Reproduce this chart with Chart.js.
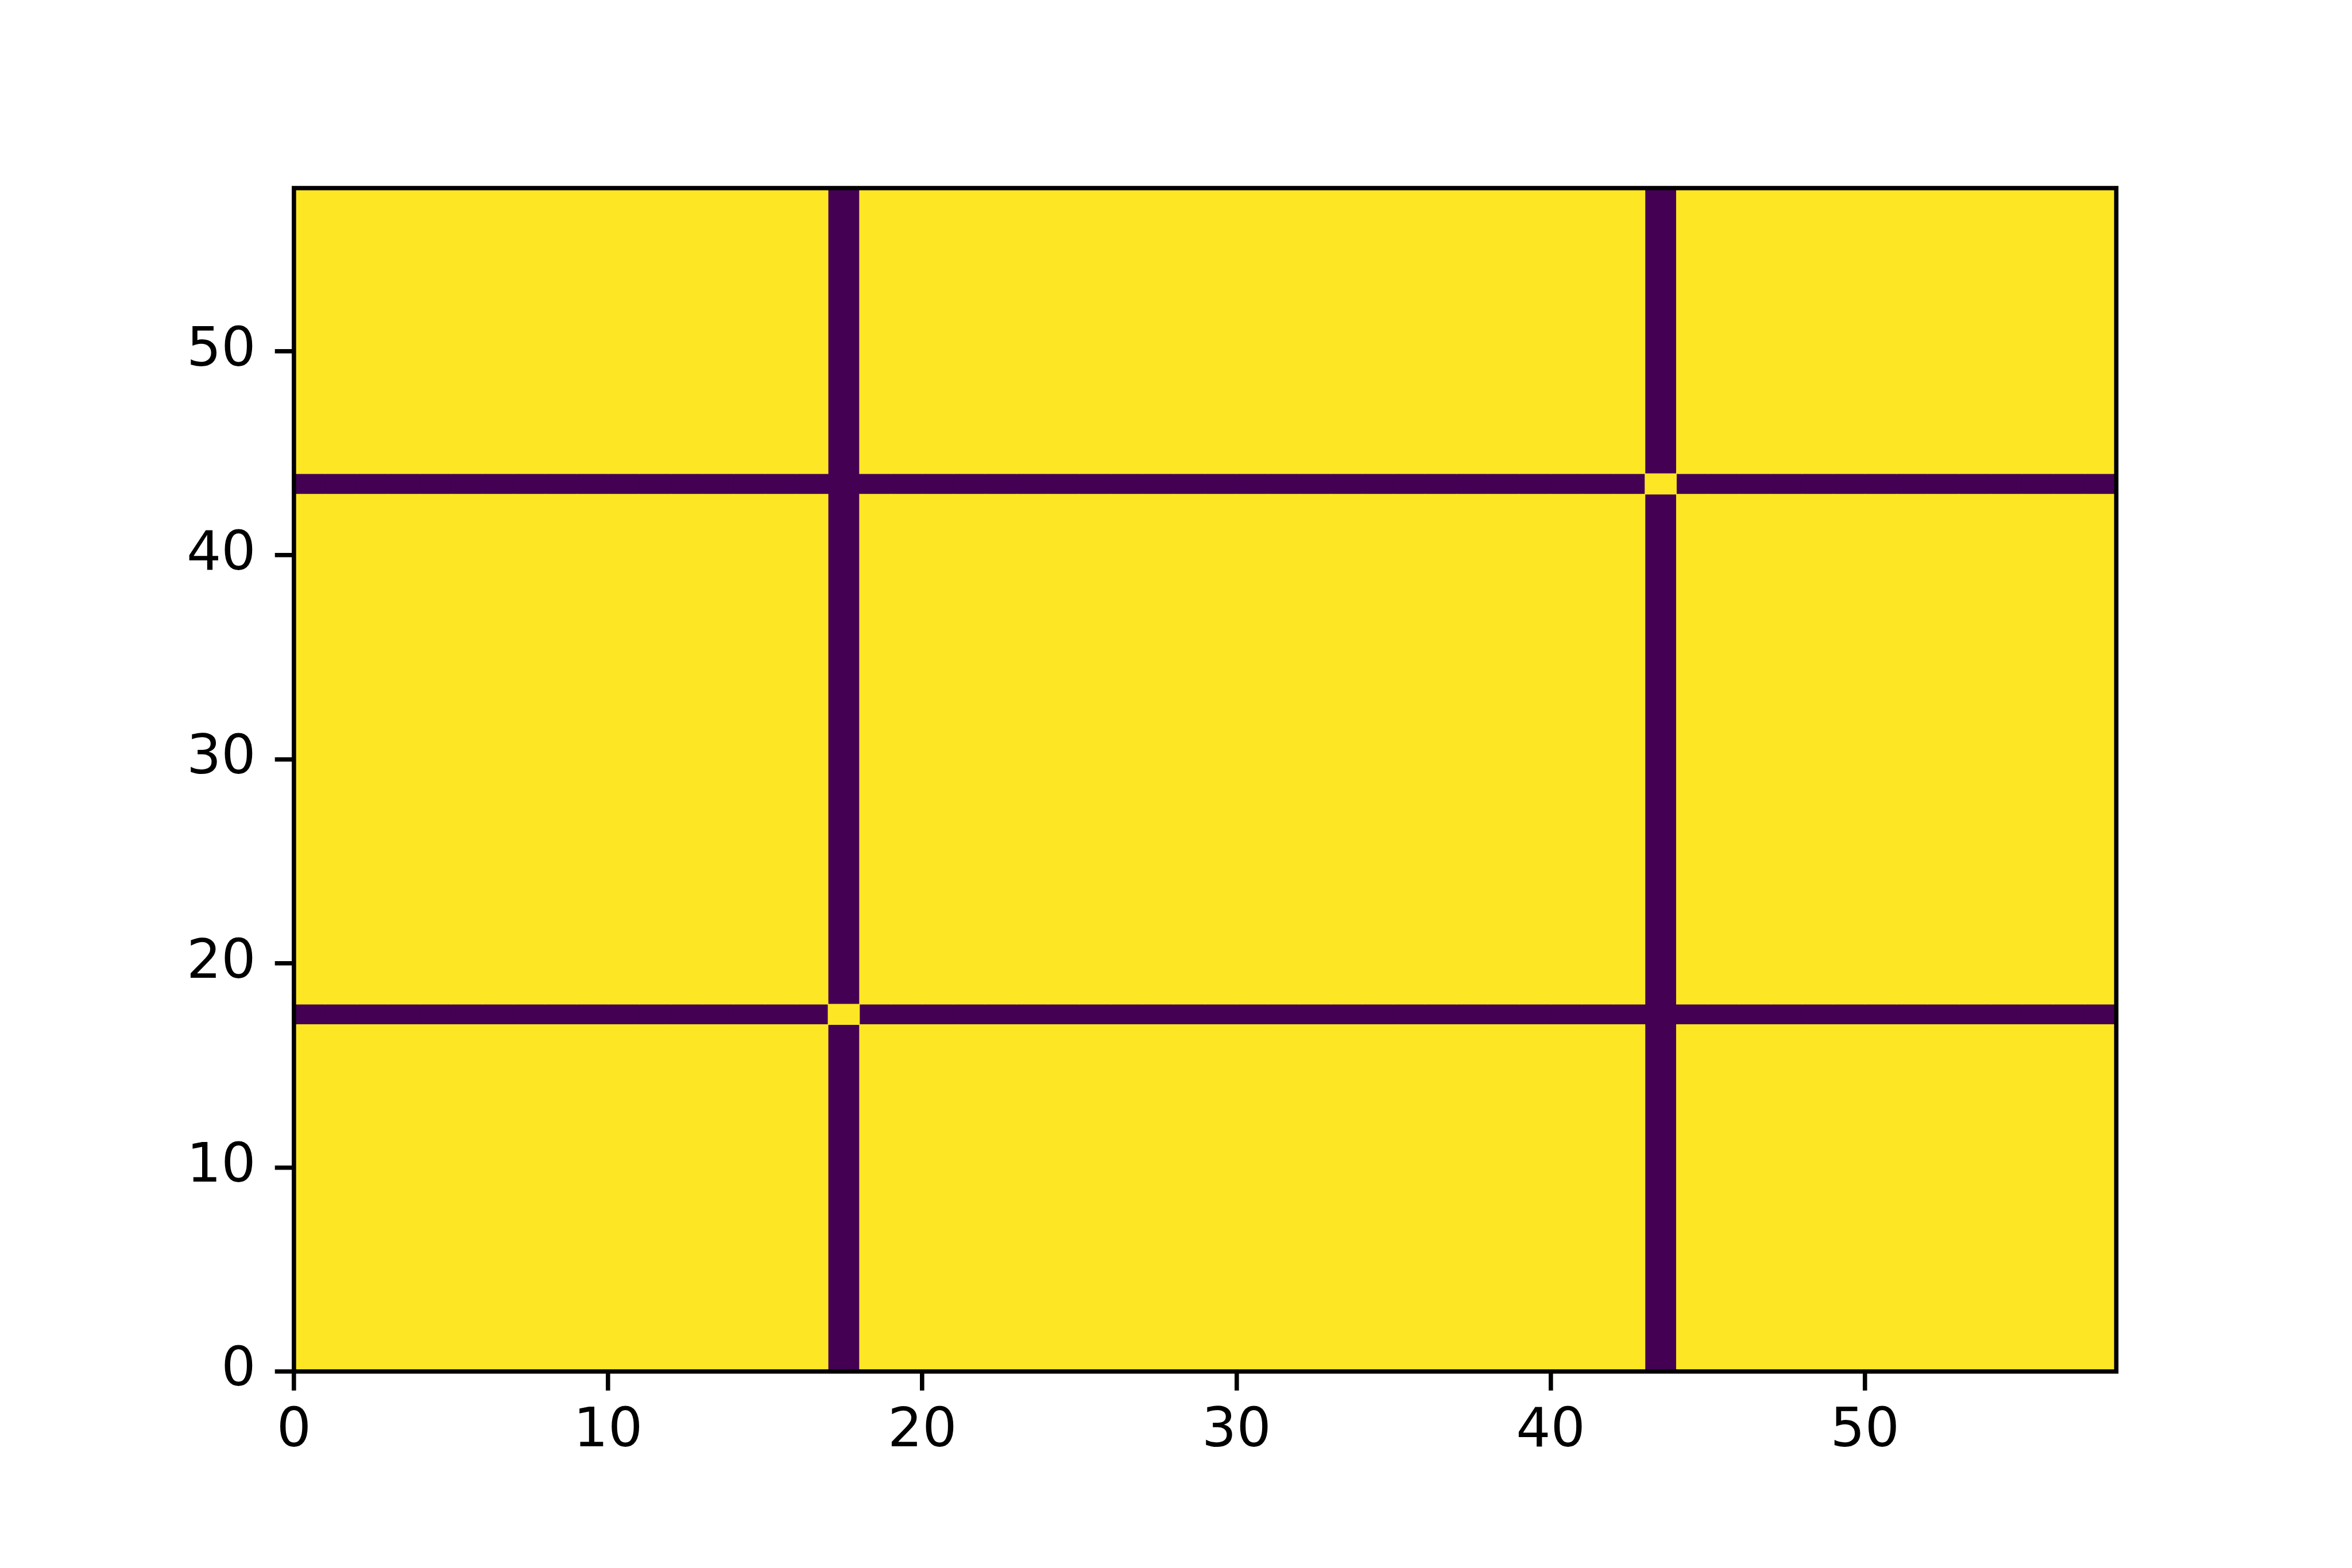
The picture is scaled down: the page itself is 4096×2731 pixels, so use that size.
<!DOCTYPE html>
<html>
<head>
<meta charset="utf-8">
<script src="https://cdn.jsdelivr.net/npm/chart.js@4/dist/chart.umd.min.js"></script>
<style>
  html, body { margin: 0; padding: 0; background: #ffffff; overflow: hidden; }
  #c { display: block; }
</style>
</head>
<body>
<canvas id="c" width="4096" height="2731"></canvas>
<script>
// ---- data ----
const nCols = 58;                         // grid columns (x from 0 to 58)
const nRows = 58;                         // grid rows (y from 0 to 58)
const stripeCols = [17, 43];              // columns filled with the low value
const stripeRows = [17, 43];              // rows filled with the low value
const brightCrossings = [[17, 17], [43, 43]]; // crossings that keep the high value
const levelValues = [0, 1];               // low / high cell values
const levelColors = ['#440154', '#fde725']; // viridis ends
const xTickValues = [0, 10, 20, 30, 40, 50];
const yTickValues = [0, 10, 20, 30, 40, 50];

// ---- build the cell values and per-column runs ----
function cellValue(c, r) {
  if (brightCrossings.some(p => p[0] === c && p[1] === r)) return levelValues[1];
  if (stripeCols.includes(c) || stripeRows.includes(r)) return levelValues[0];
  return levelValues[1];
}
const runs = levelValues.map(() => []);
for (let c = 0; c < nCols; c++) {
  let start = 0, cur = cellValue(c, 0);
  for (let r = 1; r <= nRows; r++) {
    const v = r < nRows ? cellValue(c, r) : null;
    if (v !== cur) {
      runs[levelValues.indexOf(cur)].push({ x: c + 0.5, y: [start, r] });
      start = r; cur = v;
    }
  }
}

// ---- sizes (reference * 0.975) ----
const S = 0.975;
const spineW = 7.78 * S;
const tickLen = 34.0 * S;
const tickPad = 34.0 * S;
const xTickPad = 16;
const fontPx = 97.2 * S;
const W = 4096, H = 2731;
const areaLeft = 525 * S, areaRight = 3780 * S, areaTop = 336 * S, areaBottom = 2450 * S;

const framePlugin = {
  id: 'frame',
  afterDatasetsDraw(chart) {
    const a = chart.chartArea, ctx = chart.ctx;
    ctx.save();
    ctx.strokeStyle = '#000000';
    ctx.lineWidth = spineW;
    ctx.strokeRect(a.left, a.top, a.right - a.left, a.bottom - a.top);
    ctx.restore();
  }
};

const datasets = levelValues.map((v, i) => ({
  label: 'value ' + v,
  data: runs[i],
  backgroundColor: levelColors[i],
  borderWidth: 0,
  grouped: false,
  barPercentage: 1,
  categoryPercentage: 1,
  inflateAmount: 0.5,
  order: levelValues.length - i
}));

new Chart(document.getElementById('c'), {
  type: 'bar',
  data: { datasets },
  plugins: [framePlugin],
  options: {
    responsive: false,
    animation: false,
    events: [],
    devicePixelRatio: 1,
    layout: { padding: { left: 0, top: areaTop, right: W - areaRight, bottom: 0 } },
    plugins: { legend: { display: false }, tooltip: { enabled: false }, title: { display: false } },
    scales: {
      x: {
        type: 'linear',
        min: 0, max: nCols,
        offset: false,
        afterFit: s => { s.height = H - areaBottom; },
        afterBuildTicks: s => { s.ticks = xTickValues.map(v => ({ value: v })); },
        grid: { offset: false, drawOnChartArea: false, drawTicks: true, tickLength: tickLen, tickWidth: spineW, tickColor: '#000000', lineWidth: spineW, color: '#000000' },
        border: { display: false },
        ticks: { color: '#000000', padding: xTickPad, maxRotation: 0, autoSkip: false, font: { family: 'DejaVu Sans', size: fontPx } }
      },
      y: {
        type: 'linear',
        min: 0, max: nRows,
        afterFit: s => { s.width = areaLeft; },
        afterBuildTicks: s => { s.ticks = yTickValues.map(v => ({ value: v })); },
        grid: { drawOnChartArea: false, drawTicks: true, tickLength: tickLen, tickWidth: spineW, tickColor: '#000000', lineWidth: spineW, color: '#000000' },
        border: { display: false },
        ticks: { color: '#000000', padding: tickPad, autoSkip: false, font: { family: 'DejaVu Sans', size: fontPx } }
      }
    }
  }
});
</script>
</body>
</html>
